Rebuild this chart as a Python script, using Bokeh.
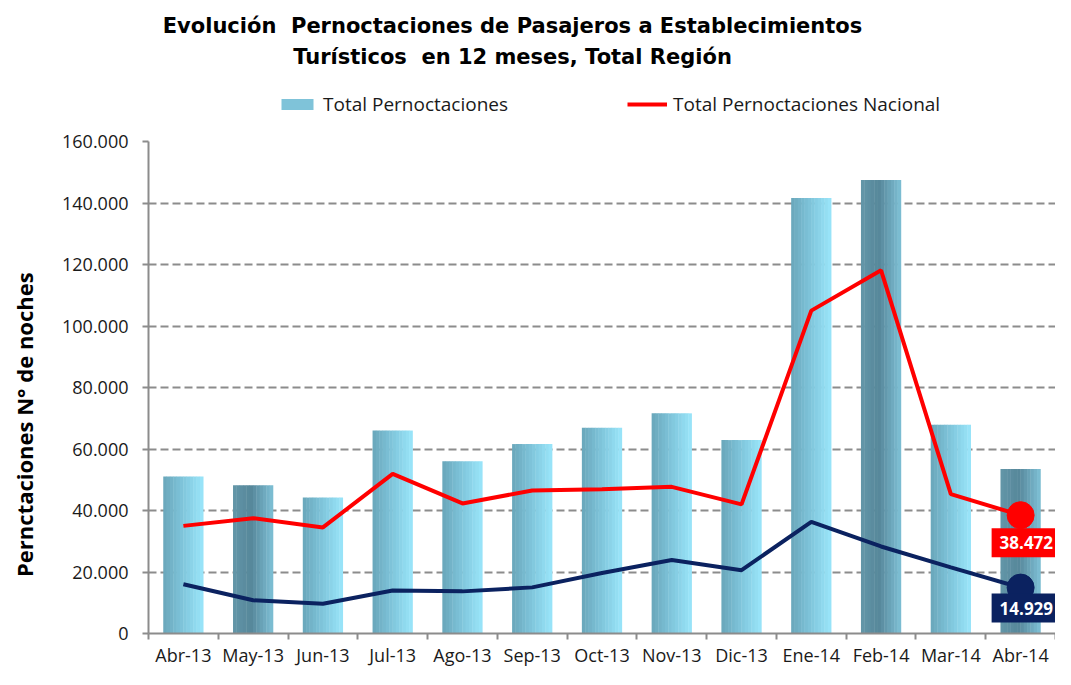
from bokeh.plotting import figure
from bokeh.layouts import column
from bokeh.models import (ColumnDataSource, Range1d, FixedTicker, Label,
                          Legend, LegendItem)
from bokeh.transform import dodge
from bokeh.embed import file_html
from bokeh.resources import INLINE

# ---------------- data ----------------
meses = ["Abr-13", "May-13", "Jun-13", "Jul-13", "Ago-13", "Sep-13", "Oct-13",
         "Nov-13", "Dic-13", "Ene-14", "Feb-14", "Mar-14", "Abr-14"]
total_pernoctaciones = [51050, 48200, 44200, 66000, 56000, 61600, 66900,
                        71600, 62900, 141600, 147500, 67900, 53500]
total_nacional = [35000, 37500, 34500, 51900, 42300, 46500, 46900,
                  47700, 42000, 105000, 118100, 45300, 38472]
serie_region = [16000, 10800, 9700, 14000, 13700, 15000, 19700,
                23900, 20600, 36300, 28300, 21500, 14929]
y_ticks = [0, 20000, 40000, 60000, 80000, 100000, 120000, 140000, 160000]
y_tick_labels = ["0", "20.000", "40.000", "60.000", "80.000", "100.000",
                 "120.000", "140.000", "160.000"]
titulo_1 = "Evolución\u00a0 Pernoctaciones de Pasajeros a Establecimientos"
titulo_2 = "Turísticos\u00a0 en 12 meses, Total Región"
nombre_barras = "Total Pernoctaciones"
nombre_linea = "Total Pernoctaciones Nacional"
eje_y = "Pernctaciones N° de noches"

# ---------------- style ----------------
tono_barra = ["claro", "oscuro", "claro", "claro", "claro", "claro", "claro",
              "claro", "claro", "claro", "oscuro", "claro", "oscuro"]
RED = "#ff0000"
NAVY = "#0b2260"
GRID = "#8c8c8c"
TXT = "#1a1a1a"
NB = "\u00a0"
W = 1055
LEFT = 148            # frame left edge (shared by both figures)
TOP_H = 124
MAIN_H = 669 - TOP_H


def hex2rgb(h):
    h = h.lstrip("#")
    return tuple(int(h[i:i + 2], 16) for i in (0, 2, 4))


def rgb2hex(c):
    return "#%02x%02x%02x" % tuple(int(round(v)) for v in c)


def grad(stops, t):
    for (t0, c0), (t1, c1) in zip(stops[:-1], stops[1:]):
        if t0 <= t <= t1:
            a, b = hex2rgb(c0), hex2rgb(c1)
            f = 0 if t1 == t0 else (t - t0) / (t1 - t0)
            return rgb2hex([a[k] + (b[k] - a[k]) * f for k in range(3)])
    return stops[-1][1]


stops = {
    "claro": [(0.0, "#69a6ba"), (0.5, "#80c6dc"), (1.0, "#9ae6fa")],
    "oscuro": [(0.0, "#6396a8"), (0.45, "#56879a"), (1.0, "#7ec0d5")],
}

N_STRIPS = 12
BAR_W = 40 / 70

x_pos = [i + 0.5 for i in range(len(meses))]
bordes = list(range(len(meses) + 1))
data = dict(x=x_pos, mes=meses, total=total_pernoctaciones,
            nac=total_nacional, reg=serie_region)
for j in range(N_STRIPS):
    t = (j + 0.5) / N_STRIPS
    data["c%d" % j] = [grad(stops[s], t) for s in tono_barra]
src = ColumnDataSource(data)

# ================= header figure: titles + legend =================
top = figure(width=W, height=TOP_H, x_range=Range1d(0, len(meses)),
             y_range=Range1d(y_ticks[0], y_ticks[-1]),
             output_backend="svg", toolbar_location=None, title=None,
             x_axis_type=None, y_axis_type=None, min_border=0,
             min_border_left=LEFT, background_fill_color="white",
             border_fill_color="white")
top.outline_line_color = None
top.xgrid.visible = False
top.ygrid.visible = False

# positions below are in screen pixels from the frame's bottom-left corner
for txt, yy in ((titulo_1, TOP_H - 25), (titulo_2, TOP_H - 56)):
    top.add_layout(Label(x=512 - LEFT, y=yy, x_units="screen", y_units="screen",
                         text=txt, text_align="center", text_baseline="middle",
                         text_font="DejaVu Sans", text_font_style="bold",
                         text_font_size="21px", text_color="black"))

# hidden renderers only used to draw the legend swatches
leg_bar = top.vbar(x="x", top="total", width=0.5, source=src, fill_color="#7fc3d9",
                   line_color=None, visible=False)
leg_line = top.line(x="x", y="nac", source=src, line_color=RED, line_width=4,
                    visible=False)
legend = Legend(items=[LegendItem(label=nombre_barras, renderers=[leg_bar]),
                       LegendItem(label=nombre_linea, renderers=[leg_line])],
                location=(277 - LEFT, TOP_H - 117), orientation="horizontal",
                glyph_width=40, glyph_height=14, label_standoff=6, label_width=200,
                spacing=104, padding=0, margin=0, border_line_color=None,
                background_fill_alpha=0, inactive_fill_alpha=0,
                label_text_font="Open Sans", label_text_font_size="19px",
                label_text_color=TXT)
top.add_layout(legend)

# ================= main chart =================
p = figure(width=W, height=MAIN_H, x_range=Range1d(0, len(meses)),
           y_range=Range1d(y_ticks[0], y_ticks[-1]), title=None,
           output_backend="svg", toolbar_location=None,
           min_border_left=LEFT, min_border_right=0, min_border_top=141 - TOP_H,
           min_border_bottom=20, background_fill_color="white",
           border_fill_color="white")
p.outline_line_color = None

strip_w = BAR_W / N_STRIPS
for j in range(N_STRIPS):
    off = -BAR_W / 2 + (j + 0.5) * strip_w
    p.vbar(x=dodge("x", off, range=p.x_range), width=strip_w * 1.12,
           bottom=0, top="total", source=src, fill_color="c%d" % j, line_color=None)

p.line("x", "nac", source=src, line_color=RED, line_width=4)
p.line("x", "reg", source=src, line_color=NAVY, line_width=4)

p.scatter(x=[x_pos[-1]], y=[total_nacional[-1]], size=27, color=RED)
p.scatter(x=[x_pos[-1]], y=[serie_region[-1]], size=27, color=NAVY)


def fmt(v):
    return "{:,}".format(v).replace(",", ".")


p.add_layout(Label(x=x_pos[-1], y=total_nacional[-1], text=fmt(total_nacional[-1]),
                   x_offset=-29, y_offset=-13, text_align="left", text_baseline="top",
                   text_color="white", text_font="Open Sans", text_font_style="bold",
                   text_font_size="17px", background_fill_color=RED, padding=8))
p.add_layout(Label(x=x_pos[-1], y=serie_region[-1], text=fmt(serie_region[-1]),
                   x_offset=-29, y_offset=-6, text_align="left", text_baseline="top",
                   text_color="white", text_font="Open Sans", text_font_style="bold",
                   text_font_size="17px", background_fill_color=NAVY, padding=8))

p.xaxis.ticker = FixedTicker(ticks=x_pos, minor_ticks=bordes)
p.xaxis.major_label_overrides = {x: m for x, m in zip(x_pos, meses)}
p.xaxis.major_tick_line_color = None
p.xaxis.major_tick_in = 0
p.xaxis.major_tick_out = 6
p.xaxis.major_label_standoff = 3
p.xaxis.major_label_text_font = "Open Sans"
p.xaxis.major_label_text_font_size = "18px"
p.xaxis.major_label_text_color = TXT
p.xaxis.minor_tick_in = 0
p.xaxis.minor_tick_out = 6
p.xaxis.minor_tick_line_color = GRID
p.xaxis.minor_tick_line_width = 2
p.xaxis.axis_line_color = GRID
p.xaxis.axis_line_width = 2

p.yaxis.ticker = FixedTicker(ticks=y_ticks)
p.yaxis.major_label_overrides = {t: l for t, l in zip(y_ticks, y_tick_labels)}
p.yaxis.major_tick_in = 0
p.yaxis.major_tick_out = 6
p.yaxis.major_tick_line_color = GRID
p.yaxis.major_tick_line_width = 2
p.yaxis.minor_tick_line_color = None
p.yaxis.axis_line_color = GRID
p.yaxis.axis_line_width = 2
p.yaxis.major_label_standoff = 14
p.yaxis.major_label_text_font = "Open Sans"
p.yaxis.major_label_text_font_size = "18px"
p.yaxis.major_label_text_color = TXT
p.yaxis.axis_label = eje_y + NB * 13
p.yaxis.axis_label_standoff = 20
p.yaxis.axis_label_text_font = "Open Sans"
p.yaxis.axis_label_text_font_style = "bold"
p.yaxis.axis_label_text_font_size = "22px"
p.yaxis.axis_label_text_color = "black"

p.xgrid.visible = False
p.ygrid.grid_line_color = GRID
p.ygrid.grid_line_dash = "8 4"
p.ygrid.grid_line_width = 2

layout = column(top, p, spacing=0)
open("out.html", "w").write(file_html(layout, INLINE))
